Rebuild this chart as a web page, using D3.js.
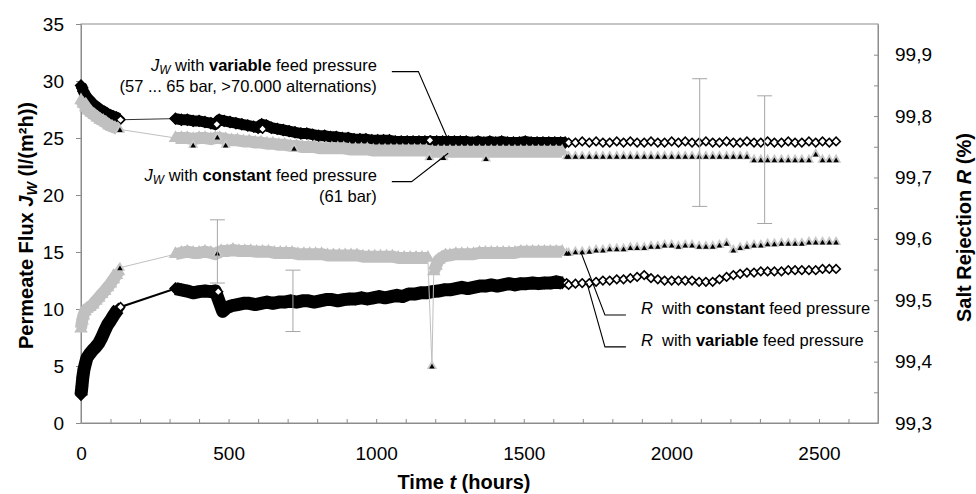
<!DOCTYPE html>
<html>
<head>
<meta charset="utf-8">
<script src="https://cdn.jsdelivr.net/npm/d3@7"></script>
<style>
  body { margin: 0; background: #fff; }
  svg { display: block; font-family: "Liberation Sans", Arial, Helvetica, sans-serif; }
</style>
</head>
<body>
<script>
// ---- data ----
// hours of the daily readings once the logger was thinned out (t > 1650 h)
const dailyHours = [1652, 1675, 1698, 1722, 1745, 1768, 1791, 1815, 1838, 1861,
  1884, 1908, 1931, 1954, 1977, 2001, 2024, 2047, 2070, 2094,
  2117, 2140, 2163, 2187, 2210, 2233, 2256, 2280, 2303, 2326,
  2349, 2373, 2396, 2419, 2442, 2466, 2489, 2512, 2535, 2558]

// permeate flux Jw, variable feed pressure  [hours, l/(m2h)]
const jwVarLog = [[0,29.6],[4,29.4],[8,29.1],[14,28.8],[22,28.5],[30,28.3],[40,28.0],[50,27.8],[60,27.6],[70,27.4],[80,27.3],[90,27.1],[100,27.0],[110,26.9],[120,26.8],[128,26.7],
  [320,26.7],[340,26.6],[360,26.6],[380,26.5],[400,26.5],[420,26.4],[440,26.3],[455,26.2],
  [468,26.6],[485,26.5],[505,26.4],[525,26.3],[545,26.2],[565,26.1],[585,26.0],[600,25.9],
  [612,26.2],[628,26.1],[645,25.9],[665,25.8],[685,25.7],[705,25.6],[725,25.5],[745,25.4],[765,25.4],[785,25.3],[805,25.2],[825,25.2],[845,25.1],[865,25.1],[885,25.0],[905,25.0],[925,24.9],[945,24.9],[965,24.9],[985,24.8],
  [1005,24.8],[1025,24.8],[1045,24.8],[1065,24.7],[1085,24.7],[1105,24.7],[1125,24.7],[1145,24.7],[1165,24.7],[1185,24.7],[1205,24.7],[1225,24.7],[1245,24.7],[1265,24.7],[1285,24.7],[1305,24.7],[1325,24.6],[1345,24.7],[1365,24.6],[1385,24.7],
  [1405,24.6],[1425,24.7],[1445,24.6],[1465,24.6],[1485,24.6],[1505,24.7],[1525,24.6],[1545,24.6],[1565,24.6],[1585,24.6],[1605,24.6],[1625,24.6],[1640,24.6]]
const jwVarMarked = [[134,26.6],[460,26.2],[615,25.8],[1182,24.8]]
const jwVarDaily = [24.6, 24.6, 24.7, 24.6, 24.7, 24.6, 24.6, 24.7, 24.6, 24.7,
  24.6, 24.6, 24.7, 24.6, 24.6, 24.7, 24.6, 24.7, 24.6, 24.6,
  24.7, 24.6, 24.6, 24.7, 24.6, 24.6, 24.7, 24.6, 24.6, 24.7,
  24.6, 24.6, 24.7, 24.6, 24.6, 24.7, 24.6, 24.7, 24.6, 24.7]

// permeate flux Jw, constant feed pressure (61 bar)
const jwConstLog = [[0,28.3],[8,28.0],[16,27.7],[25,27.4],[35,27.2],[45,27.0],[55,26.8],[65,26.6],[75,26.5],[85,26.3],[95,26.1],[105,26.0],[115,25.9],[125,25.8],
  [320,25.0],[340,25.0],[360,25.0],[380,24.9],[400,25.0],[420,25.0],[440,24.9],[455,25.0],[470,25.0],[490,24.9],[510,24.8],[530,24.8],[550,24.7],[570,24.7],[590,24.6],[610,24.6],[630,24.5],[650,24.5],[670,24.4],[690,24.4],[710,24.3],[730,24.3],[750,24.2],[770,24.2],[790,24.2],
  [810,24.1],[830,24.1],[850,24.1],[870,24.1],[890,24.1],[910,24.0],[930,24.0],[950,24.0],[970,24.0],[990,23.9],[1010,23.9],[1030,23.9],[1050,23.9],[1070,23.9],[1090,23.9],[1110,23.9],[1130,23.9],[1150,23.9],[1170,23.9],
  [1190,23.8],[1210,23.8],[1230,23.8],[1250,23.8],[1270,23.8],[1290,23.8],[1310,23.8],[1330,23.8],[1350,23.8],[1370,23.8],[1390,23.8],[1410,23.8],[1430,23.8],[1450,23.8],[1470,23.8],[1490,23.8],[1510,23.8],[1530,23.8],[1550,23.8],[1570,23.8],[1590,23.8],[1610,23.8],[1630,23.8]]
const jwConstMarked = [[132,25.75],[380,24.4],[462,25.1],[490,24.4],[722,24.1],[1180,23.3],[1228,23.3],[1372,23.2],[1646,23.4]]
const jwConstDaily = [23.4, 23.4, 23.4, 23.4, 23.4, 23.4, 23.4, 23.4, 23.4, 23.4,
  23.4, 23.4, 23.4, 23.4, 23.4, 23.4, 23.4, 23.4, 23.4, 23.4,
  23.4, 23.4, 23.4, 23.4, 23.4, 23.4, 23.4, 23.1, 23.1, 23.1,
  23.1, 23.1, 23.1, 23.1, 23.1, 23.1, 23.6, 23.1, 23.1, 23.1]

// salt rejection R, variable feed pressure  [hours, %]
const rVarLog = [[0,99.346],[3,99.359],[6,99.374],[10,99.387],[15,99.397],[20,99.406],[30,99.413],[40,99.419],[50,99.424],[60,99.430],[70,99.439],[80,99.450],[90,99.460],[100,99.467],[110,99.475],[120,99.482],[127,99.486],
  [320,99.519],[340,99.517],[360,99.515],[380,99.512],[400,99.514],[420,99.515],[440,99.514],[455,99.515],
  [480,99.482],[495,99.488],[510,99.491],[530,99.493],[550,99.495],[570,99.495],[590,99.493],[610,99.495],[630,99.497],[650,99.495],[670,99.497],[690,99.497],[710,99.499],[730,99.497],[750,99.499],[770,99.499],[790,99.497],[810,99.499],[830,99.501],[850,99.501],[870,99.499],[890,99.501],[910,99.502],[930,99.502],[950,99.504],[970,99.502],[990,99.504],
  [1010,99.506],[1030,99.504],[1050,99.506],[1070,99.508],[1090,99.506],[1110,99.510],[1130,99.510],[1150,99.512],[1170,99.512],[1190,99.514],[1210,99.515],[1230,99.517],[1250,99.517],[1270,99.519],[1290,99.521],[1310,99.519],[1330,99.521],[1350,99.523],[1370,99.523],[1390,99.525],
  [1410,99.523],[1430,99.525],[1450,99.527],[1470,99.525],[1490,99.527],[1510,99.527],[1530,99.528],[1550,99.527],[1570,99.528],[1590,99.528],[1610,99.530],[1630,99.528]]
const rVarMarked = [[134,99.489],[465,99.514],[1645,99.528]]
const rVarDaily = [99.525, 99.527, 99.528, 99.528, 99.530, 99.532, 99.532, 99.534, 99.534, 99.536,
  99.538, 99.541, 99.536, 99.534, 99.532, 99.532, 99.532, 99.532, 99.532, 99.530,
  99.530, 99.530, 99.534, 99.538, 99.541, 99.543, 99.545, 99.545, 99.547, 99.547,
  99.547, 99.547, 99.549, 99.549, 99.549, 99.549, 99.549, 99.551, 99.551, 99.551]

// salt rejection R, constant feed pressure
const rConstLog = [[0,99.454],[4,99.467],[8,99.475],[14,99.482],[20,99.486],[30,99.489],[40,99.493],[50,99.499],[60,99.504],[70,99.510],[80,99.515],[90,99.521],[100,99.527],[110,99.534],[120,99.541],[127,99.547],
  [320,99.575],[340,99.577],[360,99.579],[380,99.577],[400,99.577],[420,99.579],[440,99.577],[455,99.575],
  [475,99.580],[495,99.580],[515,99.582],[535,99.580],[555,99.580],[575,99.580],[595,99.579],[615,99.579],[635,99.579],[655,99.577],[675,99.577],[695,99.577],[715,99.577],[735,99.575],[755,99.575],[775,99.575],[795,99.575],[815,99.575],
  [835,99.573],[855,99.573],[875,99.573],[895,99.573],[915,99.573],[935,99.573],[955,99.571],[975,99.571],[995,99.571],[1015,99.571],[1035,99.571],[1055,99.571],[1075,99.569],[1095,99.569],[1115,99.569],[1135,99.569],[1155,99.569],[1175,99.569],
  [1195,99.547],[1203,99.556],[1212,99.566],[1222,99.569],[1235,99.573],[1250,99.573],[1270,99.575],[1290,99.575],[1310,99.575],[1330,99.575],[1350,99.577],[1370,99.577],[1390,99.577],[1410,99.577],[1430,99.577],[1450,99.577],[1470,99.577],
  [1490,99.579],[1510,99.579],[1530,99.579],[1550,99.579],[1570,99.579],[1590,99.579],[1610,99.579],[1630,99.579]]
const rConstMarked = [[132,99.553],[462,99.577],[1189,99.393],[1645,99.577]]
const rConstDaily = [99.577, 99.579, 99.579, 99.580, 99.582, 99.582, 99.584, 99.584, 99.584, 99.586,
  99.586, 99.586, 99.588, 99.588, 99.590, 99.590, 99.588, 99.590, 99.590, 99.588,
  99.588, 99.588, 99.590, 99.593, 99.582, 99.586, 99.588, 99.590, 99.590, 99.592,
  99.592, 99.593, 99.593, 99.593, 99.593, 99.595, 99.595, 99.595, 99.595, 99.595]

// error bars: hours, low, high, which axis
const errHours = [462, 718, 2096, 2316]
const errLow = [99.528, 99.449, 19.0, 17.5]
const errHigh = [99.631, 99.549, 30.2, 28.7]
const errAxis = ["R", "R", "J", "J"]

// axis ticks
const xTicks = d3.range(0, 2700, 100)
const xLabels = [0, 500, 1000, 1500, 2000, 2500]
const jTicks = [0, 5, 10, 15, 20, 25, 30, 35]
const rTicks = [99.3, 99.35, 99.4, 99.45, 99.5, 99.55, 99.6, 99.65, 99.7, 99.75, 99.8, 99.85, 99.9]
const rLabels = [99.3, 99.4, 99.5, 99.6, 99.7, 99.8, 99.9]

// ---- chart ----
const width = 976
const height = 494
const font = 19

const x = d3.scaleLinear().domain([0, 2700]).range([81, 878])
const yJ = d3.scaleLinear().domain([0, 35]).range([423, 24])
const yR = d3.scaleLinear().domain([99.3, 99.95]).range([423, 24])

const svg = d3.select("body").append("svg")
  .attr("width", width)
  .attr("height", height)

// frame
svg.append("rect")
  .attr("x", x(0)).attr("y", yJ(35))
  .attr("width", x(2700) - x(0)).attr("height", yJ(0) - yJ(35))
  .attr("fill", "none").attr("stroke", "#8c8c8c")

const axisStyle = g => {
  g.select(".domain").attr("stroke", "#8c8c8c")
  g.selectAll(".tick line").attr("stroke", "#8c8c8c")
  g.selectAll(".tick text").attr("fill", "#000").attr("font-size", font)
    .attr("font-family", "Liberation Sans, Arial, sans-serif")
}

svg.append("g")
  .attr("transform", `translate(0,${yJ(0)})`)
  .call(d3.axisBottom(x).tickValues(xTicks).tickSize(-4).tickSizeOuter(0).tickPadding(24)
    .tickFormat(d => xLabels.includes(d) ? d : ""))
  .call(axisStyle)

svg.append("g")
  .attr("transform", `translate(${x(0)},0)`)
  .call(d3.axisLeft(yJ).tickValues(jTicks).tickSize(5).tickSizeOuter(0).tickPadding(12))
  .call(axisStyle)

svg.append("g")
  .attr("transform", `translate(${x(2700)},0)`)
  .call(d3.axisRight(yR).tickValues(rTicks).tickSize(-4).tickSizeOuter(0).tickPadding(17)
    .tickFormat(d => rLabels.some(v => Math.abs(v - d) < 1e-9) ? d3.format(".1f")(d).replace(".", ",") : ""))
  .call(axisStyle)

// rich text helper: parts = [{t, i, b, sub, back}]
function rich(sel, parts) {
  parts.forEach(p => {
    const t = sel.append("tspan").text(p.t)
    if (p.i) t.attr("font-style", "italic")
    if (p.b) t.attr("font-weight", "bold")
    if (p.sub) t.attr("font-size", "0.72em").attr("dy", "0.3em")
    if (p.back) t.attr("dy", "-0.22em")
  })
}

// axis titles
svg.append("text")
  .attr("transform", `translate(${x(0) - 48},${(yJ(0) + yJ(35)) / 2 + 2}) rotate(-90)`)
  .attr("text-anchor", "middle").attr("font-size", 20).attr("font-weight", "bold")
  .call(rich, [{t: "Permeate Flux "}, {t: "J", i: true}, {t: "W", i: true, sub: true}, {t: " (l/(m²h))", back: true}])

svg.append("text")
  .attr("transform", `translate(${x(2700) + 93},${(yJ(0) + yJ(35)) / 2 + 4}) rotate(-90)`)
  .attr("text-anchor", "middle").attr("font-size", 20).attr("font-weight", "bold")
  .call(rich, [{t: "Salt Rejection "}, {t: "R", i: true}, {t: " (%)"}])

svg.append("text")
  .attr("x", 464).attr("y", 489)
  .attr("text-anchor", "middle").attr("font-size", 20).attr("font-weight", "bold")
  .call(rich, [{t: "Time "}, {t: "t", i: true}, {t: "  (hours)"}])

// markers
const openDiamond = d3.symbol(d3.symbolSquare, 36)()
const denseDiamond = d3.symbol(d3.symbolSquare, 58)()
const haloTri = d3.symbol(d3.symbolTriangle, 46)()
const denseTri = d3.symbol(d3.symbolTriangle, 80)()
const coreTri = d3.symbol(d3.symbolTriangle, 13)()

const series = [
  {log: jwVarLog, marked: jwVarMarked, daily: jwVarDaily, y: yJ, shape: "diamond", line: "#333", lw: 1, band: 11},
  {log: jwConstLog, marked: jwConstMarked, daily: jwConstDaily, y: yJ, shape: "triangle", line: "#c0c0c0", lw: 1, band: 12},
  {log: rVarLog, marked: rVarMarked, daily: rVarDaily, y: yR, shape: "diamond", line: "#000", lw: 2, band: 13},
  {log: rConstLog, marked: rConstMarked, daily: rConstDaily, y: yR, shape: "triangle", line: "#c0c0c0", lw: 1, band: 12}
]

// split the hourly log into its recording runs: a gap longer than 40 h,
// or a single stray reading far off the band, ends a run
function runs(pts, shown, y) {
  const out = []
  pts.forEach((p, i) => {
    const prev = pts[i - 1]
    const stray = prev && shown.some(q => q.t > prev.t && q.t < p.t &&
      Math.abs(y(q.v) - y(prev.v)) > 20 && Math.abs(y(q.v) - y(p.v)) > 20)
    if (i === 0 || p.t - prev.t > 40 || stray) out.push([])
    out[out.length - 1].push(p)
  })
  return out
}

series.forEach(s => {
  const dense = s.log.map(d => ({t: d[0], v: d[1]}))
  const shown = s.marked.map(d => ({t: d[0], v: d[1]}))
    .concat(dailyHours.map((t, i) => ({t: t, v: s.daily[i]})))
  const all = dense.concat(shown).sort((a, b) => a.t - b.t)
  const line = d3.line().x(d => x(d.t)).y(d => s.y(d.v))
  const bandColor = s.shape === "diamond" ? "#000" : "#c0c0c0"

  const g = svg.append("g")
  g.append("path")
    .attr("d", line(all))
    .attr("fill", "none").attr("stroke", s.line).attr("stroke-width", s.lw)

  // the hourly records overlap into a solid band
  g.selectAll(".run").data(runs(dense, shown, s.y)).enter().append("path")
    .attr("d", line)
    .attr("fill", "none").attr("stroke", bandColor)
    .attr("stroke-width", s.band).attr("stroke-linejoin", "round")

  if (s.shape === "diamond") {
    g.selectAll(".dense").data(dense).enter().append("path")
      .attr("d", denseDiamond)
      .attr("transform", d => `translate(${x(d.t)},${s.y(d.v)}) rotate(45)`)
      .attr("fill", "#000").attr("stroke", "#000").attr("stroke-width", 1.5)
    g.selectAll(".shown").data(shown).enter().append("path")
      .attr("d", openDiamond)
      .attr("transform", d => `translate(${x(d.t)},${s.y(d.v)}) rotate(45)`)
      .attr("fill", "#fff").attr("stroke", "#000").attr("stroke-width", 1.6)
  } else {
    g.selectAll(".dense").data(dense).enter().append("path")
      .attr("d", denseTri)
      .attr("transform", d => `translate(${x(d.t)},${s.y(d.v)})`)
      .attr("fill", "#c0c0c0")
    g.selectAll(".halo").data(shown).enter().append("path")
      .attr("d", haloTri)
      .attr("transform", d => `translate(${x(d.t)},${s.y(d.v)})`)
      .attr("fill", "#c8c8c8")
    g.selectAll(".core").data(shown).enter().append("path")
      .attr("d", coreTri)
      .attr("transform", d => `translate(${x(d.t)},${s.y(d.v) + 1})`)
      .attr("fill", "#000")
  }
})

// error bars
const eg = svg.append("g").attr("stroke", "#a6a6a6").attr("stroke-width", 1)
errHours.forEach((t, i) => {
  const y = errAxis[i] === "R" ? yR : yJ
  const cx = x(t)
  eg.append("line").attr("x1", cx).attr("x2", cx).attr("y1", y(errLow[i])).attr("y2", y(errHigh[i]))
  ;[errLow[i], errHigh[i]].forEach(v => {
    eg.append("line").attr("x1", cx - 7.5).attr("x2", cx + 7.5).attr("y1", y(v)).attr("y2", y(v))
  })
})

// annotations with leader lines (anchored in data units)
const notes = [
  {axis: yJ, side: "left", leader: [[1053, 30.82], [1143, 30.82], [1239, 25.11]],
    lines: [[{t: "J", i: true}, {t: "W", i: true, sub: true}, {t: " with ", back: true}, {t: "variable", b: true}, {t: " feed pressure"}],
            [{t: "(57 ... 65 bar, >70.000 alternations)"}]]},
  {axis: yJ, side: "left", leader: [[1053, 21.17], [1120, 21.17], [1244, 23.66]],
    lines: [[{t: "J", i: true}, {t: "W", i: true, sub: true}, {t: " with ", back: true}, {t: "constant", b: true}, {t: " feed pressure"}],
            [{t: "(61 bar)"}]]},
  {axis: yR, side: "right", leader: [[1846, 99.476], [1775, 99.476], [1693, 99.579]],
    lines: [[{t: "R", i: true}, {t: "  with "}, {t: "constant", b: true}, {t: " feed pressure"}]]},
  {axis: yR, side: "right", leader: [[1846, 99.424], [1775, 99.424], [1714, 99.528]],
    lines: [[{t: "R", i: true}, {t: "  with "}, {t: "variable", b: true}, {t: " feed pressure"}]]}
]

notes.forEach(n => {
  svg.append("path")
    .attr("d", d3.line().x(d => x(d[0])).y(d => n.axis(d[1]))(n.leader))
    .attr("fill", "none").attr("stroke", "#000").attr("stroke-width", 1.1)
  const sx = x(n.leader[0][0])
  const sy = n.axis(n.leader[0][1])
  n.lines.forEach((ln, k) => {
    svg.append("text")
      .attr("x", n.side === "left" ? sx - 15 : sx + 15)
      .attr("y", sy - 1 + k * 21.5)
      .attr("text-anchor", n.side === "left" ? "end" : "start")
      .attr("font-size", 16.5).attr("fill", "#000")
      .attr("xml:space", "preserve")
      .call(rich, ln)
  })
})
</script>
</body>
</html>
